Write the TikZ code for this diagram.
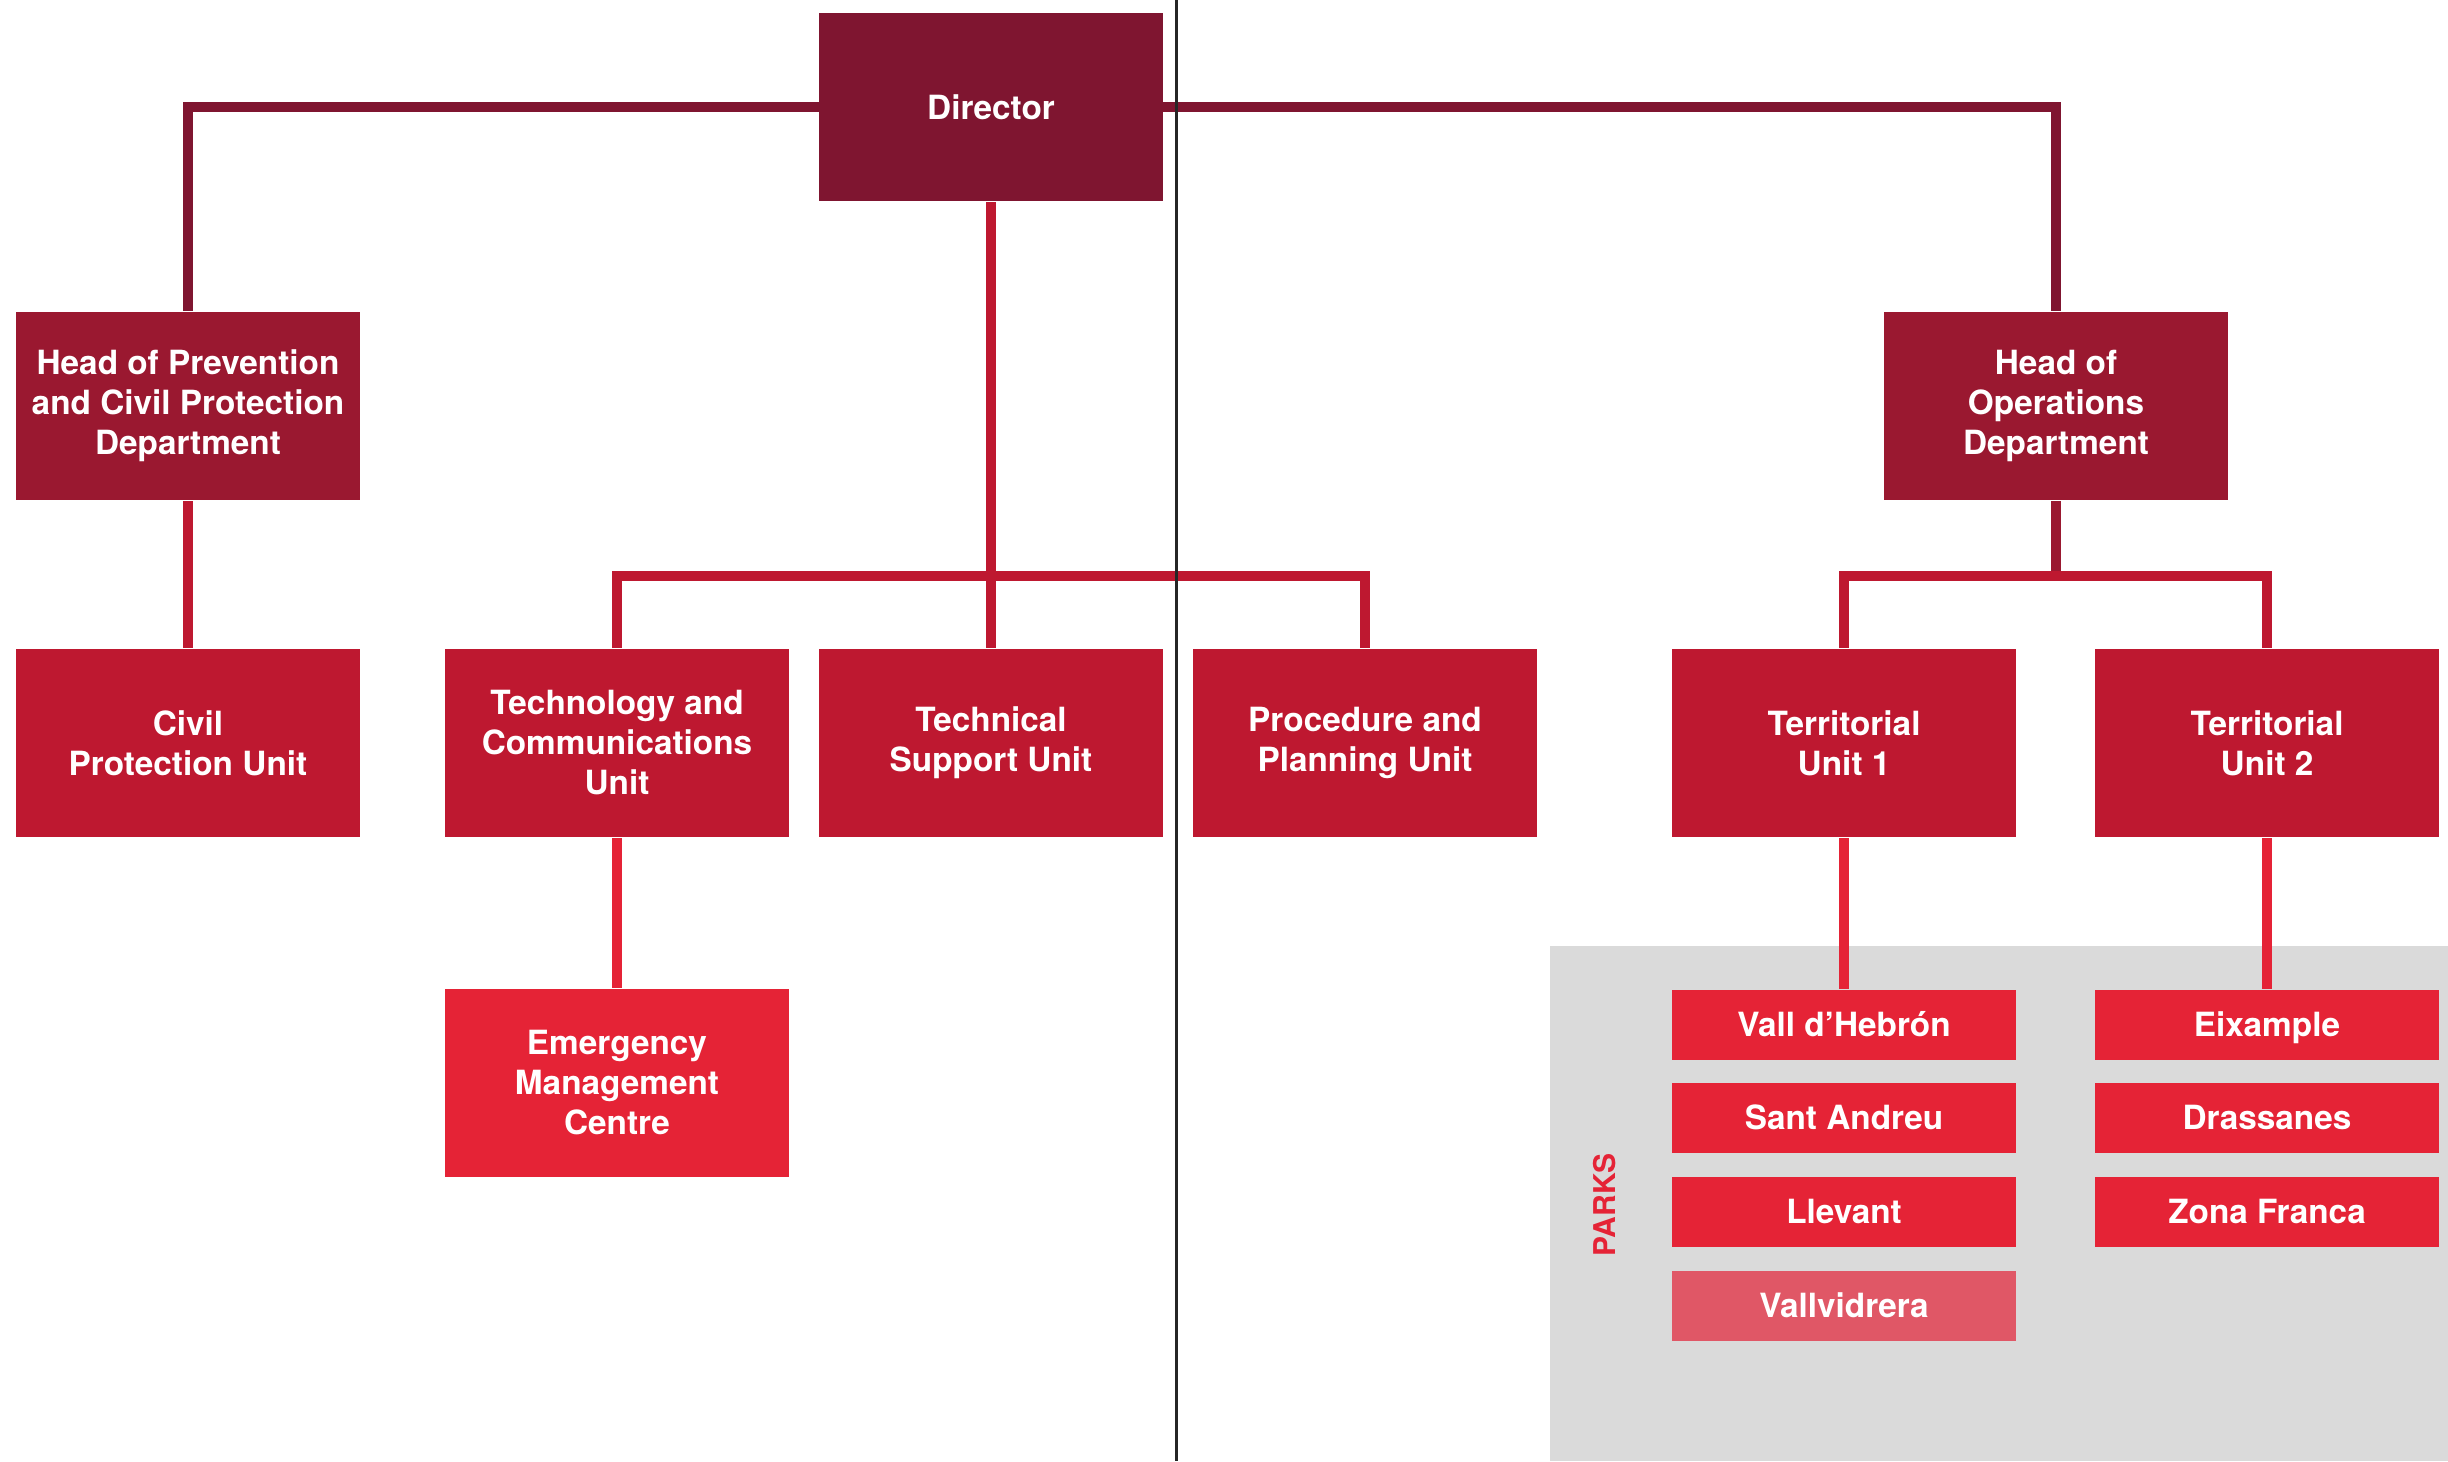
\documentclass[tikz,border=0pt]{standalone}
\usepackage{fontspec}
\setsansfont{TeX Gyre Heros}
\usepackage{tikz}
\definecolor{wine}{HTML}{7F1530}
\definecolor{claret}{HTML}{9A1830}
\definecolor{crimson}{HTML}{BE1830}
\definecolor{scarlet}{HTML}{E52336}
\definecolor{rose}{HTML}{E05766}
\definecolor{parkgray}{HTML}{DADADA}

\begin{document}
\begin{tikzpicture}[x=0.3pt,y=0.3pt,yscale=-1,xscale=1,
  unit/.style={rectangle, fill=#1, text=white, align=center, inner sep=0pt,
    minimum width=103pt, minimum height=56.6pt,
    font=\sffamily\bfseries\fontsize{10}{12}\selectfont},
  unit/.default=crimson,
  park/.style={unit=#1, minimum height=21pt, text height=8.3pt, text depth=1.4pt},
  park/.default=scarlet,
  link/.style={draw=#1, line width=3pt},
  link/.default=crimson]
\useasboundingbox (0,0) rectangle (2448,1461);
%Shape: Rectangle [id:parks area]
\fill [parkgray] (1550,946) rectangle (2448,1461);

% Text Node
\node [unit=wine] (director) at (991,107) {Director};
% Text Node
\node [unit=claret] (headprev) at (188,406) {Head of Prevention\\and Civil Protection\\Department};
% Text Node
\node [unit=claret] (headops) at (2056,406) {Head of\\Operations\\Department};
% Text Node
\node [unit] (civil) at (188,743) {Civil\\Protection Unit};
% Text Node
\node [unit] (techcom) at (617,743) {Technology and\\Communications\\Unit};
% Text Node
\node [unit] (techsup) at (991,743) {Technical\\Support Unit};
% Text Node
\node [unit] (procplan) at (1365,743) {Procedure and\\Planning Unit};
% Text Node
\node [unit] (terrone) at (1844,743) {Territorial\\Unit 1};
% Text Node
\node [unit] (terrtwo) at (2267,743) {Territorial\\Unit 2};
% Text Node
\node [unit=scarlet] (emergency) at (617,1083) {Emergency\\Management\\Centre};

% Parks
\node [park] (vallheb) at (1844,1025) {Vall d’Hebrón};
\node [park] (santand) at (1844,1118) {Sant Andreu};
\node [park] (llevant) at (1844,1212) {Llevant};
\node [park=rose] (vallvid) at (1844,1306) {Vallvidrera};
\node [park] (eixample) at (2267,1025) {Eixample};
\node [park] (drassanes) at (2267,1118) {Drassanes};
\node [park] (zonafranca) at (2267,1212) {Zona Franca};
% Text Node
\node [rotate=90, text=scarlet, font=\sffamily\bfseries\fontsize{9}{11}\selectfont] (parks) at (1605,1205) {PARKS};

%Straight Lines [id:bus points]
\coordinate (dirbus) at (991,576);
\coordinate (opsbus) at (2056,576);

%Straight Lines [id:director branches]
\draw [link=wine] (director.west) -| (headprev.north);
\draw [link=wine] (director.east) -| (headops.north);
\draw [link] (director.south) -- (techsup.north);
\draw [link] (techcom.north) |- (dirbus) -| (procplan.north);
%Straight Lines [id:operations branches]
\draw [link=claret] (headops.south) -- (opsbus);
\draw [link] (terrone.north) |- (opsbus) -| (terrtwo.north);
%Straight Lines [id:unit branches]
\draw [link] (headprev.south) -- (civil.north);
\draw [link=scarlet] (techcom.south) -- (emergency.north);
\draw [link=scarlet] (terrone.south) -- (vallheb.north);
\draw [link=scarlet] (terrtwo.south) -- (eixample.north);

%Straight Lines [id:separator]
\coordinate (septop) at (1176,0);
\coordinate (sepbot) at (1176,1461);
\draw [line width=0.9pt, black!85] (septop) -- (sepbot);
\end{tikzpicture}
\end{document}
